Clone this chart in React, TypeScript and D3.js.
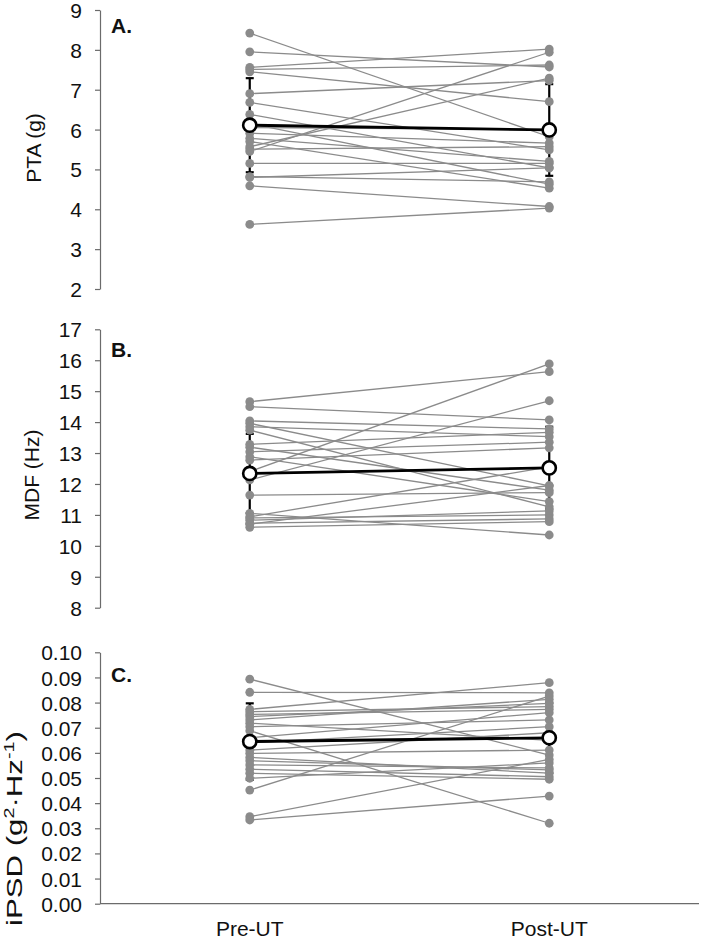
import React, { useEffect, useRef } from "react";
import * as d3 from "d3";

const conditions = ["Pre-UT", "Post-UT"];

// Panel A: PTA (g)
const ptaPre = [8.42, 7.95, 7.56, 7.51, 7.45, 6.90, 6.68, 6.38, 6.15, 6.05, 5.91, 5.78, 5.70, 5.57, 5.51, 5.45, 5.15, 4.82, 4.80, 4.59, 3.62];
const ptaPost = [5.82, 7.57, 8.02, 7.62, 6.70, 7.23, 5.49, 5.04, 4.63, 6.00, 5.66, 5.20, 4.53, 7.29, 5.57, 7.94, 5.15, 4.69, 5.04, 4.07, 4.03];
const ptaMean = [6.11, 5.99];
const ptaSD = [1.18, 1.15];

// Panel B: MDF (Hz)
const mdfPre = [14.66, 14.50, 14.04, 13.96, 13.85, 13.74, 13.28, 13.19, 13.04, 12.88, 12.77, 12.40, 12.13, 11.64, 11.05, 10.94, 10.90, 10.83, 10.73, 10.60, 10.70];
const mdfPost = [15.63, 14.07, 13.78, 11.94, 13.53, 11.26, 13.67, 11.80, 13.35, 11.43, 13.17, 15.88, 14.69, 11.72, 10.35, 12.55, 11.00, 11.13, 10.87, 10.78, 11.95];
const mdfMean = [12.34, 12.52];
const mdfSD = [1.28, 1.33];

// Panel C: iPSD (g²·Hz⁻¹)
const ipsdPre = [0.0893, 0.0841, 0.0773, 0.0764, 0.0753, 0.0744, 0.0731, 0.0718, 0.0704, 0.0688, 0.0660, 0.0640, 0.0611, 0.0598, 0.0582, 0.0569, 0.0552, 0.0535, 0.0519, 0.0499, 0.0452, 0.0346, 0.0333];
const ipsdPost = [0.0591, 0.0839, 0.0879, 0.0784, 0.0773, 0.0797, 0.0813, 0.0650, 0.0731, 0.0320, 0.0760, 0.0704, 0.0680, 0.0611, 0.0519, 0.0532, 0.0540, 0.0505, 0.0495, 0.0560, 0.0826, 0.0574, 0.0428];
const ipsdMean = [0.0645, 0.0660];
const ipsdSD = [0.0152, 0.0140];

const W = 701;
const H = 939;
const AXIS_X = 100;
const RIGHT_X = 699;
const FONT = "'Liberation Sans', Arial, Helvetica, sans-serif";
const GRAY = "#8b8b8b";

type Panel = {
  key: string;
  label: string;
  pre: number[];
  post: number[];
  mean: number[];
  sd: number[];
  domain: [number, number];
  range: [number, number];
  tickCount: number;
  fmt: string;
  labelY: number;
  bottomAxis: boolean;
};

const panels: Panel[] = [
  { key: "A", label: "A.", pre: ptaPre, post: ptaPost, mean: ptaMean, sd: ptaSD, domain: [2, 9], range: [289, 10], tickCount: 7, fmt: "d", labelY: 33, bottomAxis: false },
  { key: "B", label: "B.", pre: mdfPre, post: mdfPost, mean: mdfMean, sd: mdfSD, domain: [8, 17], range: [607.7, 329.3], tickCount: 9, fmt: "d", labelY: 357, bottomAxis: false },
  { key: "C", label: "C.", pre: ipsdPre, post: ipsdPost, mean: ipsdMean, sd: ipsdSD, domain: [0, 0.1], range: [903.7, 652.3], tickCount: 10, fmt: ".2f", labelY: 682, bottomAxis: true },
];

const x = d3.scalePoint<string>().domain(conditions).range([AXIS_X, RIGHT_X]).padding(0.5);

function PanelView({ p }: { p: Panel }) {
  const axisRef = useRef<SVGGElement>(null);
  const y = d3.scaleLinear().domain(p.domain).range(p.range);
  const xPre = x(conditions[0]) as number;
  const xPost = x(conditions[1]) as number;

  useEffect(() => {
    if (!axisRef.current) return;
    const g = d3.select(axisRef.current);
    g.selectAll("*").remove();
    const ticks = d3.range(p.tickCount + 1).map((i) => p.domain[0] + ((p.domain[1] - p.domain[0]) * i) / p.tickCount);
    g.call(
      d3.axisLeft(y).tickValues(ticks).tickFormat(d3.format(p.fmt) as any).tickSize(5).tickSizeOuter(0)
    );
    g.select(".domain").attr("stroke", "#6b6b6b").attr("stroke-width", 1.2);
    g.selectAll(".tick line").attr("stroke", "#6b6b6b").attr("stroke-width", 1.2);
    g.selectAll(".tick text")
      .attr("font-family", FONT)
      .attr("font-size", 21)
      .attr("fill", "#111")
      .attr("x", -18)
      .attr("dy", "0.36em");
  }, []);

  const line = d3.line<[number, number]>().x((d) => d[0]).y((d) => d[1]);

  return (
    <g>
      <g ref={axisRef} transform={`translate(${AXIS_X},0)`} />
      {p.bottomAxis && (
        <line x1={AXIS_X} x2={RIGHT_X} y1={y(p.domain[0])} y2={y(p.domain[0])} stroke="#6b6b6b" strokeWidth={1.2} />
      )}
      <text x={111} y={p.labelY} fontFamily={FONT} fontWeight="bold" fontSize={21} fill="#111">
        {p.label}
      </text>
      {p.mean.map((m, i) => {
        const cx = i === 0 ? xPre : xPost;
        const top = y(m + p.sd[i]);
        const bot = y(m - p.sd[i]);
        return (
          <g key={`eb${i}`} stroke="#000" strokeWidth={2.2}>
            <line x1={cx} x2={cx} y1={top} y2={bot} />
            <line x1={cx - 4} x2={cx + 4} y1={top} y2={top} />
            <line x1={cx - 4} x2={cx + 4} y1={bot} y2={bot} />
          </g>
        );
      })}
      {p.pre.map((v, i) => (
        <path
          key={`l${i}`}
          d={line([[xPre, y(v)], [xPost, y(p.post[i])]]) as string}
          stroke={GRAY}
          strokeWidth={1.3}
          fill="none"
        />
      ))}
      {p.pre.map((v, i) => (
        <circle key={`a${i}`} cx={xPre} cy={y(v)} r={4.4} fill={GRAY} />
      ))}
      {p.post.map((v, i) => (
        <circle key={`b${i}`} cx={xPost} cy={y(v)} r={4.4} fill={GRAY} />
      ))}
      <path
        d={line([[xPre, y(p.mean[0])], [xPost, y(p.mean[1])]]) as string}
        stroke="#000"
        strokeWidth={2.8}
        fill="none"
      />
      {p.mean.map((m, i) => (
        <circle key={`m${i}`} cx={i === 0 ? xPre : xPost} cy={y(m)} r={6.6} fill="#fff" stroke="#000" strokeWidth={2.6} />
      ))}
    </g>
  );
}

export default function App() {
  return (
    <svg
      width={W}
      height={H}
      viewBox={`0 0 ${W} ${H}`}
      style={{ position: "absolute", left: 0, top: 0, background: "#fff" }}
    >
      <rect x={0} y={0} width={W} height={H} fill="#fff" />
      {panels.map((p) => (
        <PanelView key={p.key} p={p} />
      ))}
      <text transform={`translate(41,148) rotate(-90)`} textAnchor="middle" fontFamily={FONT} fontSize={21} fill="#111">
        PTA (g)
      </text>
      <text transform={`translate(39,475) rotate(-90)`} textAnchor="middle" fontFamily={FONT} fontSize={21} fill="#111">
        MDF (Hz)
      </text>
      <text
        transform={`translate(22,926) rotate(-90)`}
        textAnchor="start"
        fontFamily={FONT}
        fontSize={22}
        fill="#111"
        textLength={195}
        lengthAdjust="spacingAndGlyphs"
      >
        <tspan>iPSD (g</tspan>
        <tspan fontSize={14} dy={-8}>2</tspan>
        <tspan dy={8}>·Hz</tspan>
        <tspan fontSize={14} dy={-8}>-1</tspan>
        <tspan dy={8}>)</tspan>
      </text>
      {conditions.map((c) => (
        <text key={c} x={x(c) as number} y={936} textAnchor="middle" fontFamily={FONT} fontSize={21} fill="#111">
          {c}
        </text>
      ))}
    </svg>
  );
}
